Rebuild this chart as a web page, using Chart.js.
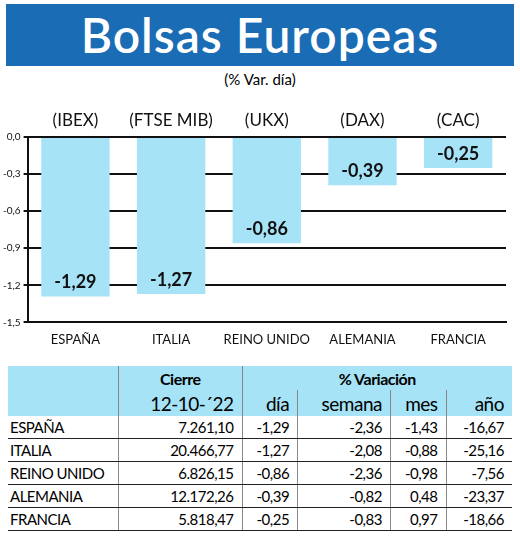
<!DOCTYPE html>
<html><head><meta charset="utf-8">
<script src="https://cdn.jsdelivr.net/npm/chart.js@4"></script>
<style>
body{margin:0;width:520px;height:544px;background:#fff;font-family:Lato,"Open Sans",sans-serif;position:relative;overflow:hidden}
#title{position:absolute;left:6px;top:4px;width:508px;height:62px;background:#1a6cb5;color:#fff;font-size:48px;font-weight:600;text-align:center;line-height:62px;letter-spacing:1px}
#sub{position:absolute;left:0;width:520px;top:70px;text-align:center;font-size:15px}
#wrap{position:absolute;left:0;top:95px;width:520px;height:255px}
table{position:absolute;left:8px;top:366px;width:504px;border-collapse:collapse;font-size:15px;letter-spacing:-0.5px}
th{background:#a6e3f7;font-weight:normal;height:24px;padding:0}
th.h{font-weight:bold;font-size:16px}
td{height:22px;padding:0 8px 0 0;border-bottom:1px solid #222;text-align:right}
td:first-child{text-align:left;padding-left:2px}
td+td,th+th{border-left:1px solid #888}
th.big{font-size:19px;text-align:right;padding-right:8px;height:26px}
</style></head><body>
<div id="title">Bolsas Europeas</div>
<div id="sub">(% Var. día)</div>
<div id="wrap"><canvas id="c" width="520" height="255"></canvas></div>
<table id="t"></table>
<script>
const countries = ['ESPAÑA','ITALIA','REINO UNIDO','ALEMANIA','FRANCIA'];
const indices = ['(IBEX)','(FTSE MIB)','(UKX)','(DAX)','(CAC)'];
const dayChange = [-1.29,-1.27,-0.86,-0.39,-0.25];
const closes = ['7.261,10','20.466,77','6.826,15','12.172,26','5.818,47'];
const dayCol = ['-1,29','-1,27','-0,86','-0,39','-0,25'];
const weekCol = ['-2,36','-2,08','-2,36','-0,82','-0,83'];
const monthCol = ['-1,43','-0,88','-0,98','0,48','0,97'];
const yearCol = ['-16,67','-25,16','-7,56','-23,37','-18,66'];

const fmt = v => v.toFixed(2).replace('.', ',');

const labelPlugin = {
  id: 'labels',
  afterDatasetsDraw(chart) {
    const ctx = chart.ctx;
    const meta = chart.getDatasetMeta(0);
    ctx.save();
    ctx.fillStyle = '#111';
    ctx.textAlign = 'center';
    meta.data.forEach((bar, i) => {
      ctx.font = '17px Lato, sans-serif';
      ctx.textBaseline = 'bottom';
      ctx.fillText(indices[i], bar.x, chart.chartArea.top - 8);
      ctx.font = 'bold 18px Lato, sans-serif';
      ctx.textBaseline = 'middle';
      ctx.fillText(fmt(dayChange[i]), bar.x, bar.y - 14);
    });
    ctx.restore();
  }
};

new Chart(document.getElementById('c'), {
  type: 'bar',
  data: {
    labels: countries,
    datasets: [{ data: dayChange, backgroundColor: '#a6e3f7', categoryPercentage: 0.94, barPercentage: 0.76 }]
  },
  options: {
    responsive: false,
    animation: false,
    layout: { padding: { top: 42, right: 14, left: 0, bottom: 0 } },
    plugins: { legend: { display: false }, tooltip: { enabled: false } },
    scales: {
      x: {
        grid: { display: false },
        border: { color: '#111', width: 2 },
        ticks: { color: '#111', maxRotation: 0, minRotation: 0, autoSkip: false, padding: 2, font: { family: 'Lato', size: 13 } }
      },
      y: {
        min: -1.5, max: 0,
        ticks: { stepSize: 0.3, color: '#111', font: { family: 'Lato', size: 10 }, callback: v => v.toFixed(1).replace('.', ',') },
        grid: { color: '#111', lineWidth: 2, drawTicks: true, tickLength: 4 },
        border: { color: '#111', width: 2 }
      }
    }
  },
  plugins: [labelPlugin]
});

const t = document.getElementById('t');
let html = '<tr><th></th><th class="h">Cierre</th><th class="h" colspan="4">% Variación</th></tr>' +
  '<tr><th style="width:110px"></th><th class="big">12-10-´22</th><th class="big">día</th><th class="big">semana</th><th class="big">mes</th><th class="big">año</th></tr>';
countries.forEach((c, i) => {
  html += '<tr><td>' + c + '</td><td>' + closes[i] + '</td><td>' + dayCol[i] + '</td><td>' + weekCol[i] + '</td><td>' + monthCol[i] + '</td><td>' + yearCol[i] + '</td></tr>';
});
t.innerHTML = html;
</script>
</body></html>
